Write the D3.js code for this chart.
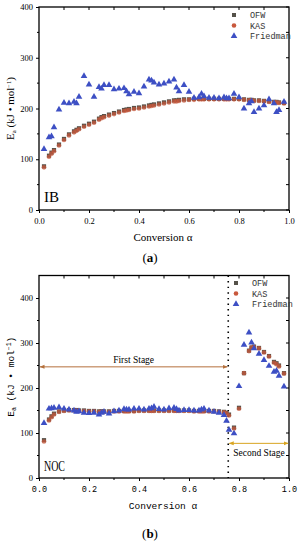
<!DOCTYPE html>
<html>
<head>
<meta charset="utf-8">
<script src="https://cdn.jsdelivr.net/npm/d3@7"></script>
<style>
  body { margin: 0; background: #fff; }
  svg { display: block; }
</style>
</head>
<body>
<div id="chart"></div>
<script>
// conversion values shared by both panels
var alpha = [0.02,0.04,0.05,0.06,0.08,0.10,0.12,0.14,0.15,0.16,0.18,0.20,0.22,0.24,0.25,0.26,0.28,0.30,0.32,0.34,0.35,0.36,0.38,0.40,0.42,0.44,0.45,0.46,0.48,0.50,0.52,0.54,0.55,0.56,0.58,0.60,0.62,0.64,0.65,0.66,0.68,0.70,0.72,0.74,0.75,0.76,0.78,0.80,0.82,0.84,0.85,0.86,0.88,0.90,0.92,0.94,0.95,0.96,0.98]

// panel (a) IB
var ibOFW = [86,107,113,118,129,140,149,155,158,161,166,170,174,180,183,185,188,191,194,197,198,199,201,202,204,206,207,208,210,212,214,216,216,217,218,218,219,219,219,219,219,219,219,219,219,219,219,219,218,217,217,216,216,215,214,213,213,212,211]
var ibKAS = [84,105,111,116,127,138,147,153,156,159,164,168,172,178,181,183,186,189,192,195,196,197,199,200,202,204,205,206,208,210,212,214,214,215,216,217,217,218,218,218,218,218,218,218,218,218,218,218,217,216,216,215,215,214,213,212,212,211,210]
var ibFriedman = [120,143,145,163,198,211,210,213,210,223,264,247,223,242,239,246,246,238,239,240,234,228,233,230,243,257,255,251,247,249,253,257,241,234,246,233,221,222,229,224,221,221,220,222,220,220,229,222,200,210,214,193,200,206,218,210,193,197,213]

// panel (b) NOC
var nocOFW = [84,130,137,143,148,150,151,151,151,150,150,149,149,148,148,148,148,149,149,149,149,149,149,150,150,150,150,150,150,150,150,150,150,150,150,150,149,149,149,149,149,149,148,147,145,141,112,156,233,283,290,292,289,280,271,258,255,250,233]
var nocKAS = [81,128,135,141,147,149,150,150,150,149,149,148,148,147,147,147,147,148,148,148,148,148,148,149,149,149,149,149,149,149,149,149,149,149,149,149,148,148,148,148,148,148,147,146,144,139,110,154,233,282,290,291,288,279,270,256,253,248,232]
var nocFriedman = [122,154,155,156,157,154,152,150,147,148,145,144,145,141,145,147,143,148,150,153,152,152,154,154,152,154,155,158,153,152,155,156,153,150,151,151,150,150,152,154,150,147,145,140,127,107,99,204,296,323,301,288,276,262,249,236,238,227,203]

var seriesNames = ["OFW", "KAS", "Friedman"]
var xTicks = [0, 0.2, 0.4, 0.6, 0.8, 1.0]
var stageSplit = 0.757
var firstStageE = 247, secondStageE = 77

var colors = {OFW: "#55524a", KAS: "#c8583c", Friedman: "#3d4fc4"}

var W = 300, H = 550
var svg = d3.select("#chart").append("svg")
    .attr("width", W).attr("height", H)

function panel(cfg) {
  var x = d3.scaleLinear().domain([0, 1]).range([39, 289])
  var y = d3.scaleLinear().domain([0, cfg.ymax]).range([cfg.bottom, cfg.top])
  var g = svg.append("g")

  // frame
  g.append("rect")
    .attr("x", x(0)).attr("y", cfg.top)
    .attr("width", x(1) - x(0)).attr("height", cfg.bottom - cfg.top)
    .attr("fill", "none").attr("stroke", "#000").attr("stroke-width", 1.3)

  // bottom axis
  var xa = g.append("g")
    .attr("transform", "translate(0," + cfg.bottom + ")")
    .call(d3.axisBottom(x).tickValues(xTicks).tickSize(3).tickFormat(d3.format(".1f")))
  xa.select(".domain").remove()
  xa.selectAll("text").attr("font-family", cfg.xFont).attr("font-size", 8.5).attr("dy", "0.9em")
  // minor ticks and top ticks
  var minor = d3.range(0.1, 1, 0.2)
  g.selectAll(".mx").data(minor).enter().append("line")
    .attr("x1", d => x(d)).attr("x2", d => x(d))
    .attr("y1", cfg.bottom).attr("y2", cfg.bottom + 2)
    .attr("stroke", "#000")
  g.selectAll(".tx").data(d3.range(0.1, 1, 0.1)).enter().append("line")
    .attr("x1", d => x(d)).attr("x2", d => x(d))
    .attr("y1", cfg.top).attr("y2", cfg.top + 3)
    .attr("stroke", "#000")

  // left axis
  var ya = g.append("g")
    .attr("transform", "translate(" + x(0) + ",0)")
    .call(d3.axisLeft(y).tickValues(cfg.yTicks).tickSize(3))
  ya.select(".domain").remove()
  ya.selectAll("text").attr("font-family", "Liberation Serif").attr("font-size", 8.5)
  g.selectAll(".ry").data(cfg.yTicks.concat(cfg.yMinor)).enter().append("line")
    .attr("x1", x(1)).attr("x2", x(1) - 3)
    .attr("y1", d => y(d)).attr("y2", d => y(d))
    .attr("stroke", "#000")
  g.selectAll(".ly").data(cfg.yMinor).enter().append("line")
    .attr("x1", x(0)).attr("x2", x(0) - 2)
    .attr("y1", d => y(d)).attr("y2", d => y(d))
    .attr("stroke", "#000")

  // titles
  g.append("text")
    .attr("x", 163).attr("y", cfg.bottom + 31)
    .attr("text-anchor", "middle")
    .attr("font-family", cfg.titleFont).attr("font-size", cfg.titleSize)
    .text("Conversion α")
  var yt = g.append("text")
    .attr("transform", "translate(14," + ((cfg.top + cfg.bottom) / 2) + ") rotate(-90)")
    .attr("text-anchor", "middle")
    .attr("font-family", cfg.titleFont).attr("font-size", cfg.ytSize)
  yt.append("tspan").text("E")
  yt.append("tspan").attr("font-size", 6.5).attr("dy", 2).text("a")
  yt.append("tspan").attr("dy", -2).text(" (kJ • mol")
  yt.append("tspan").attr("font-size", 6.5).attr("dy", -3.5).text("−1")
  yt.append("tspan").attr("dy", 3.5).text(")")

  var cap = g.append("text")
    .attr("x", 150).attr("y", cfg.bottom + cfg.capOffset)
    .attr("text-anchor", "middle")
    .attr("font-family", "Liberation Serif").attr("font-size", 13)
  cap.append("tspan").text("(")
  cap.append("tspan").attr("font-weight", "bold").text(cfg.cap)
  cap.append("tspan").text(")")

  g.append("text")
    .attr("x", 44).attr("y", cfg.bottom - cfg.nameOff)
    .attr("font-family", "Liberation Serif").attr("font-size", 14)
    .attr("textLength", cfg.nameLen).attr("lengthAdjust", "spacingAndGlyphs")
    .text(cfg.name)

  if (cfg.extra) cfg.extra(g, x, y)

  // markers
  var pts = g.append("g")
  pts.selectAll(".sq").data(alpha).enter().append("rect")
    .attr("x", (d, i) => x(d) - 2.1).attr("y", (d, i) => y(cfg.ofw[i]) - 2.1)
    .attr("width", 4.2).attr("height", 4.2)
    .attr("fill", colors.OFW)
  pts.selectAll(".ci").data(alpha).enter().append("circle")
    .attr("cx", d => x(d)).attr("cy", (d, i) => y(cfg.kas[i]))
    .attr("r", 2.3).attr("fill", colors.KAS).attr("fill-opacity", 0.75)
  var tri = d3.symbol().type(d3.symbolTriangle).size(19)
  pts.selectAll(".tr").data(alpha).enter().append("path")
    .attr("d", tri)
    .attr("transform", (d, i) => "translate(" + x(d) + "," + y(cfg.fr[i]) + ")")
    .attr("fill", colors.Friedman)

  // legend
  var lg = g.append("g").attr("transform", "translate(" + cfg.legX + "," + cfg.legY + ")")
  seriesNames.forEach(function(n, i) {
    var row = lg.append("g").attr("transform", "translate(0," + (i * 10.5) + ")")
    if (n === "OFW") row.append("rect").attr("x", -2).attr("y", -2).attr("width", 4).attr("height", 4).attr("fill", colors.OFW)
    if (n === "KAS") row.append("circle").attr("r", 2.3).attr("fill", colors.KAS)
    if (n === "Friedman") row.append("path").attr("d", tri).attr("fill", colors.Friedman)
    row.append("text").attr("x", 16).attr("y", 3)
      .attr("font-family", "Liberation Mono").attr("font-size", 8.5).attr("fill", "#333")
      .text(n)
  })
}

panel({
  top: 7, bottom: 210, ymax: 400,
  yTicks: [0, 100, 200, 300, 400], yMinor: [50, 150, 250, 350],
  ofw: ibOFW, kas: ibKAS, fr: ibFriedman,
  xFont: "Liberation Serif", titleFont: "Liberation Serif", titleSize: 11, ytSize: 11,
  cap: "a", capOffset: 52, name: "IB", nameLen: 15, nameOff: 8,
  legX: 234, legY: 15
})

panel({
  top: 275.5, bottom: 478, ymax: 450,
  yTicks: [0, 100, 200, 300, 400], yMinor: [50, 150, 250, 350],
  ofw: nocOFW, kas: nocKAS, fr: nocFriedman,
  xFont: "Liberation Mono", titleFont: "Liberation Mono", titleSize: 9.5, ytSize: 9.5,
  cap: "b", capOffset: 60, name: "NOC", nameLen: 21, nameOff: 7,
  legX: 236, legY: 283,
  extra: function(g, x, y) {
    var xs = x(stageSplit)
    g.append("line")
      .attr("x1", xs).attr("x2", xs).attr("y1", y(450)).attr("y2", y(0))
      .attr("stroke", "#000").attr("stroke-width", 1.6)
      .attr("stroke-dasharray", "1.4,4.2")
    var defs = svg.append("defs")
    ;[["a1", "#b4703c"], ["a2", "#d9a520"]].forEach(function(m) {
      var mk = defs.append("marker").attr("id", m[0])
        .attr("viewBox", "0 0 10 10").attr("refX", 9).attr("refY", 5)
        .attr("markerWidth", 5).attr("markerHeight", 5).attr("orient", "auto-start-reverse")
      mk.append("path").attr("d", "M0,1 L10,5 L0,9 z").attr("fill", m[1])
    })
    g.append("line")
      .attr("x1", x(0) + 1).attr("x2", xs - 1)
      .attr("y1", y(firstStageE)).attr("y2", y(firstStageE))
      .attr("stroke", "#b4703c").attr("stroke-width", 1)
      .attr("marker-start", "url(#a1)").attr("marker-end", "url(#a1)")
    g.append("text")
      .attr("x", (x(0) + xs) / 2).attr("y", y(firstStageE) - 4)
      .attr("text-anchor", "middle")
      .attr("font-family", "Liberation Serif").attr("font-size", 9.5)
      .text("First Stage")
    g.append("line")
      .attr("x1", xs + 1).attr("x2", x(1) - 1)
      .attr("y1", y(secondStageE)).attr("y2", y(secondStageE))
      .attr("stroke", "#d9a520").attr("stroke-width", 1)
      .attr("marker-start", "url(#a2)").attr("marker-end", "url(#a2)")
    g.append("text")
      .attr("x", xs + 5).attr("y", y(secondStageE) + 13)
      .attr("font-family", "Liberation Serif").attr("font-size", 9.5)
      .text("Second Stage")
  }
})
</script>
</body>
</html>
